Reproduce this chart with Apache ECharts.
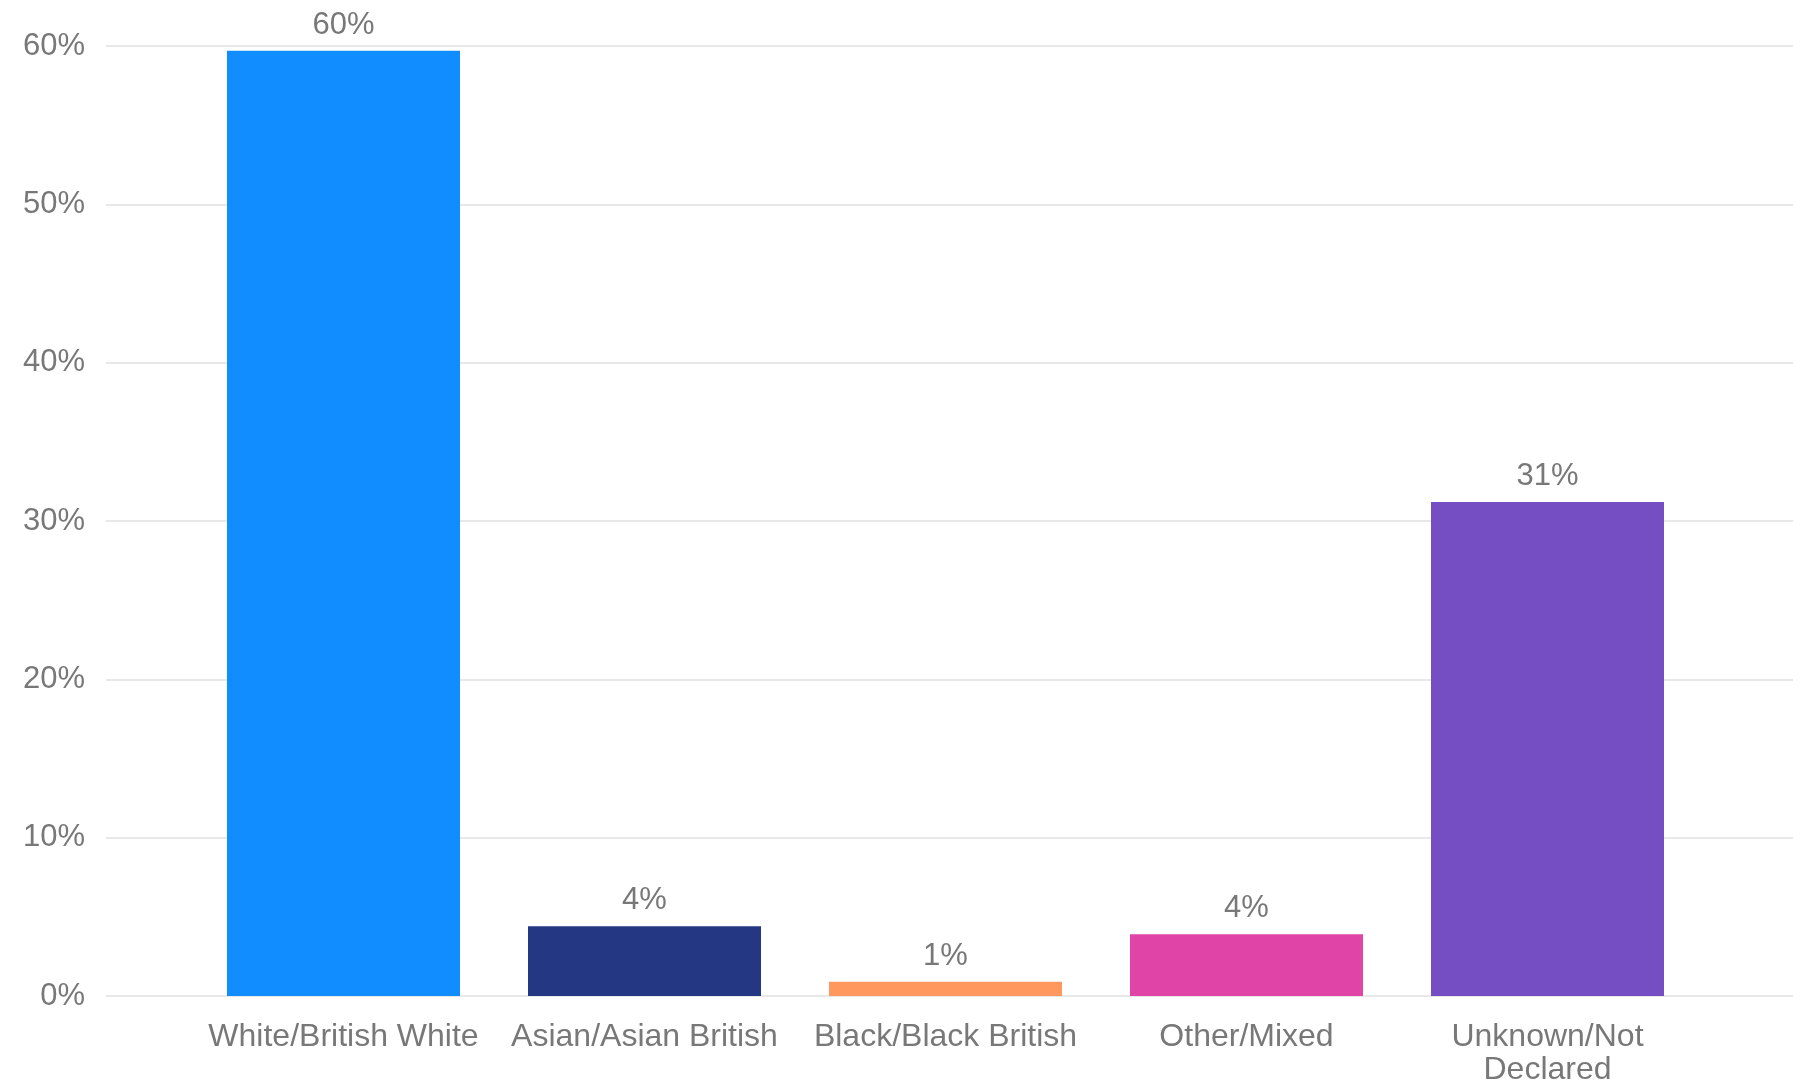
<!DOCTYPE html>
<html>
<head>
<meta charset="utf-8">
<script src="https://cdn.jsdelivr.net/npm/echarts@6/dist/echarts.min.js"></script>
<style>
  html, body { margin: 0; padding: 0; background: #ffffff; }
  #chart { width: 1805px; height: 1084px; }
</style>
</head>
<body>
<div id="chart"></div>
<script>
const categories = ['White/British White', 'Asian/Asian British', 'Black/Black British', 'Other/Mixed', 'Unknown/Not\nDeclared'];
const values = [59.7, 4.4, 0.9, 3.9, 31.2];
const barColors = ['#118DFF', '#243782', '#FF985F', '#E044A7', '#744EC2'];
const yTicks = { min: 0, max: 60, interval: 10 };

const FONT = 'Liberation Sans, Arial, sans-serif';
const TXT = '#787878';

const chart = echarts.init(document.getElementById('chart'), null, { renderer: 'canvas' });
chart.setOption({
  backgroundColor: '#ffffff',
  animation: false,
  grid: [
    { left: 106, right: 12, top: 46, bottom: 88, containLabel: false, outerBoundsMode: 'none' },
    { left: 193, right: 107, top: 46, bottom: 88, containLabel: false, outerBoundsMode: 'none' }
  ],
  xAxis: [
    { gridIndex: 0, type: 'category', data: categories, show: false },
    {
      gridIndex: 1, type: 'category', data: categories,
      axisLine: { show: false }, axisTick: { show: false },
      axisLabel: { color: TXT, fontFamily: FONT, fontSize: 32, lineHeight: 33, margin: 25, interval: 0 }
    }
  ],
  yAxis: [
    {
      gridIndex: 0, type: 'value', min: yTicks.min, max: yTicks.max, interval: yTicks.interval,
      axisLine: { show: false }, axisTick: { show: false },
      axisLabel: { color: TXT, fontFamily: FONT, fontSize: 31, margin: 21, formatter: '{value}%' },
      splitLine: { lineStyle: { color: '#e8e8e8', width: 2 } }
    },
    {
      gridIndex: 1, type: 'value', min: yTicks.min, max: yTicks.max, interval: yTicks.interval,
      show: false, splitLine: { show: false }
    }
  ],
  series: [{
    type: 'bar',
    xAxisIndex: 1, yAxisIndex: 1,
    barWidth: 233,
    data: values.map((v, i) => ({ value: v, itemStyle: { color: barColors[i] } })),
    label: {
      show: true, position: 'top', distance: 10,
      color: TXT, fontFamily: FONT, fontSize: 31,
      formatter: p => Math.round(p.value) + '%'
    }
  }]
});
</script>
</body>
</html>
